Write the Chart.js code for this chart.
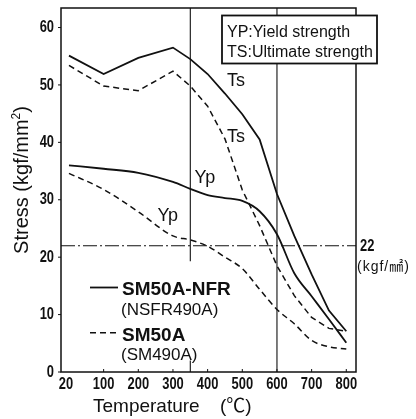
<!DOCTYPE html>
<html>
<head>
<meta charset="utf-8">
<script src="https://cdn.jsdelivr.net/npm/chart.js@4.4.1/dist/chart.umd.min.js"></script>
<style>
  html, body { margin: 0; padding: 0; background: #fff; }
</style>
</head>
<body>
<canvas id="myChart" width="416" height="419"></canvas>
<script>
// temperatures of the readings; room temperature (20 C) sits at the origin
const temps = [0, 100, 200, 300, 350, 400, 450, 500, 550, 600, 650, 700, 750, 800];

// SM50A-NFR (NSFR490A)
const tsNFR = [55.1, 51.9, 54.7, 56.5, 54.5, 51.9, 48.5, 44.9, 40.5, 31.0, 23.7, 17.0, 10.7, 7.1];
const ypNFR = [36.0, 35.4, 34.7, 33.1, 31.9, 30.8, 30.3, 29.8, 28.0, 24.0, 17.2, 13.2, 9.2, 5.1];
// SM50A (SM490A)
const tsSM = [53.4, 49.8, 49.0, 52.4, 49.8, 46.3, 40.6, 31.7, 25.5, 18.5, 13.3, 9.5, 7.6, 7.1];
const ypSM = [34.6, 31.8, 27.9, 23.7, 23.0, 21.9, 20.0, 18.0, 14.4, 10.9, 8.4, 5.5, 4.4, 4.0];

const tempTicks = [0, 100, 200, 300, 400, 500, 600, 700, 800];
const tempTickLabels = ['20', '100', '200', '300', '400', '500', '600', '700', '800'];
const stressTicks = [0, 10, 20, 30, 40, 50, 60];

const refStress = 22;
const refTemps = [350, 600];

// curve labels, in data units
const curveLabels = [
  { text: 'Ts', x: 482, y: 50.6 },
  { text: 'Ts', x: 482, y: 41.0 },
  { text: 'Yp', x: 392, y: 33.8 },
  { text: 'Yp', x: 285, y: 27.1 }
];

const sans = '"Liberation Sans", Arial, "Noto Sans CJK JP", sans-serif';
const ink = '#111';

function pts(values) {
  return values.map((v, i) => ({ x: temps[i], y: v }));
}

function line(label, values, dashed, smooth) {
  return {
    label: label,
    data: pts(values),
    borderColor: ink,
    borderWidth: dashed ? 1.5 : 1.8,
    borderDash: dashed ? [6, 4] : [],
    pointRadius: 0,
    fill: false,
    tension: 0,
    cubicInterpolationMode: smooth ? 'monotone' : 'default'
  };
}

// narrow tick-style text, squeezed like the scanned lettering
function narrowText(ctx, text, px, py, align) {
  ctx.save();
  ctx.font = 'bold 17px ' + sans;
  ctx.textBaseline = 'middle';
  const k = 0.76;
  const w = ctx.measureText(text).width * k;
  let left = px;
  if (align === 'center') left = px - w / 2;
  if (align === 'right') left = px - w;
  ctx.translate(left, py);
  ctx.scale(k, 1);
  ctx.textAlign = 'left';
  ctx.fillText(text, 0, 0);
  ctx.restore();
}

const refLines = {
  id: 'refLines',
  // reference lines under the curves
  beforeDatasetsDraw(chart) {
    const { ctx, chartArea: a, scales: { x, y } } = chart;
    ctx.save();
    ctx.strokeStyle = ink;
    ctx.lineWidth = 1.1;
    // 350 C line, broken near the bottom
    let px = x.getPixelForValue(refTemps[0]);
    ctx.beginPath();
    ctx.moveTo(px, a.top);
    ctx.lineTo(px, y.getPixelForValue(19.3));
    ctx.moveTo(px, y.getPixelForValue(2));
    ctx.lineTo(px, a.bottom);
    ctx.stroke();
    // 600 C line
    px = x.getPixelForValue(refTemps[1]);
    ctx.beginPath();
    ctx.moveTo(px, a.top);
    ctx.lineTo(px, a.bottom);
    ctx.stroke();
    // 22 kgf/mm2 dash-dot line
    const py = y.getPixelForValue(refStress);
    ctx.setLineDash([14, 3, 2, 3]);
    ctx.beginPath();
    ctx.moveTo(a.left, py);
    ctx.lineTo(a.right, py);
    ctx.stroke();
    ctx.restore();
  },
  afterDatasetsDraw(chart) {
    const { ctx, chartArea: a, scales: { x, y } } = chart;
    ctx.save();
    ctx.strokeStyle = ink;
    ctx.fillStyle = ink;

    // frame
    ctx.lineWidth = 1.5;
    ctx.strokeRect(a.left, a.top, a.right - a.left, a.bottom - a.top);

    // tick marks and tick labels from the scales
    ctx.lineWidth = 1;
    ctx.beginPath();
    x.ticks.forEach((t) => {
      if (t.value === 0) return;
      const px = x.getPixelForValue(t.value);
      ctx.moveTo(px, a.bottom);
      ctx.lineTo(px, a.bottom - 3);
    });
    y.ticks.forEach((t) => {
      const py = y.getPixelForValue(t.value);
      ctx.moveTo(a.left - 3, py);
      ctx.lineTo(a.left, py);
    });
    ctx.stroke();
    x.ticks.forEach((t) => {
      const lbl = tempTickLabels[tempTicks.indexOf(t.value)];
      narrowText(ctx, lbl, x.getPixelForValue(t.value) - (t.value === 0 ? 3 : 0), a.bottom + 12, 'center');
    });
    y.ticks.forEach((t) => {
      narrowText(ctx, String(t.value), a.left - 7, y.getPixelForValue(t.value), 'right');
    });

    // curve labels
    ctx.font = '18px ' + sans;
    ctx.textAlign = 'center';
    ctx.textBaseline = 'middle';
    curveLabels.forEach((l) => {
      ctx.fillText(l.text, x.getPixelForValue(l.x), y.getPixelForValue(l.y));
    });

    // 22 marker on the right
    const py = y.getPixelForValue(refStress);
    narrowText(ctx, String(refStress), a.right + 4, py + 1, 'left');
    ctx.font = '14px ' + sans;
    ctx.textAlign = 'left';
    ctx.letterSpacing = '1px';
    ctx.fillText('(kgf/\u339F)', a.right + 1, py + 21);
    ctx.letterSpacing = '0px';

    // key box, top right
    ctx.fillStyle = '#fff';
    ctx.fillRect(222, 15.5, 155, 48);
    ctx.lineWidth = 1.8;
    ctx.strokeRect(222, 15.5, 155, 48);
    ctx.fillStyle = ink;
    ctx.textBaseline = 'alphabetic';
    ctx.font = '16px ' + sans;
    ctx.fillText('YP:Yield strength', 227, 36.5);
    ctx.fillText('TS:Ultimate strength', 227, 56.5);

    // series legend, bottom left
    ctx.lineWidth = 1.8;
    ctx.beginPath();
    ctx.moveTo(90, 287.5);
    ctx.lineTo(118, 287.5);
    ctx.stroke();
    ctx.lineWidth = 1.5;
    ctx.setLineDash([6, 4]);
    ctx.beginPath();
    ctx.moveTo(90, 332.7);
    ctx.lineTo(118, 332.7);
    ctx.stroke();
    ctx.setLineDash([]);
    ctx.font = 'bold 19px ' + sans;
    ctx.fillText('SM50A-NFR', 122, 295);
    ctx.fillText('SM50A', 122, 340.7);
    ctx.font = '17px ' + sans;
    ctx.fillText('(NSFR490A)', 121, 315);
    ctx.fillText('(SM490A)', 121, 360);

    // axis titles
    ctx.font = '19px ' + sans;
    ctx.fillText('Temperature', 93, 412);
    ctx.fillText('(\u2103)', 220, 412);

    ctx.translate(27.5, 180);
    ctx.rotate(-Math.PI / 2);
    const big = '20px ' + sans, small = '12px ' + sans;
    ctx.font = big;
    const w1 = ctx.measureText('Stress (kgf/mm').width;
    const w3 = ctx.measureText(')').width;
    ctx.font = small;
    const w2 = ctx.measureText('2').width;
    const sx = -(w1 + w2 + w3) / 2;
    ctx.font = big;
    ctx.fillText('Stress (kgf/mm', sx, 0);
    ctx.font = small;
    ctx.fillText('2', sx + w1, -8);
    ctx.font = big;
    ctx.fillText(')', sx + w1 + w2, 0);
    ctx.restore();
  }
};

let myChart = new Chart(document.getElementById('myChart'), {
  type: 'line',
  data: {
    datasets: [
      line('SM50A-NFR TS', tsNFR, false, false),
      line('SM50A-NFR YP', ypNFR, false, true),
      line('SM50A TS', tsSM, true, false),
      line('SM50A YP', ypSM, true, true)
    ]
  },
  options: {
    responsive: false,
    animation: false,
    layout: { padding: { top: 8, right: 60, left: 0, bottom: 0 } },
    plugins: { legend: { display: false }, tooltip: { enabled: false } },
    scales: {
      x: {
        type: 'linear',
        min: -23,
        max: 828,
        afterBuildTicks: (s) => { s.ticks = tempTicks.map((v) => ({ value: v })); },
        afterFit: (s) => { s.height = 47; },
        grid: { display: false, drawTicks: false },
        border: { display: false },
        ticks: { display: false }
      },
      y: {
        min: 0,
        max: 63.4,
        afterBuildTicks: (s) => { s.ticks = stressTicks.map((v) => ({ value: v })); },
        afterFit: (s) => { s.width = 61; },
        grid: { display: false, drawTicks: false },
        border: { display: false },
        ticks: { display: false }
      }
    }
  },
  plugins: [refLines]
});
</script>
</body>
</html>
